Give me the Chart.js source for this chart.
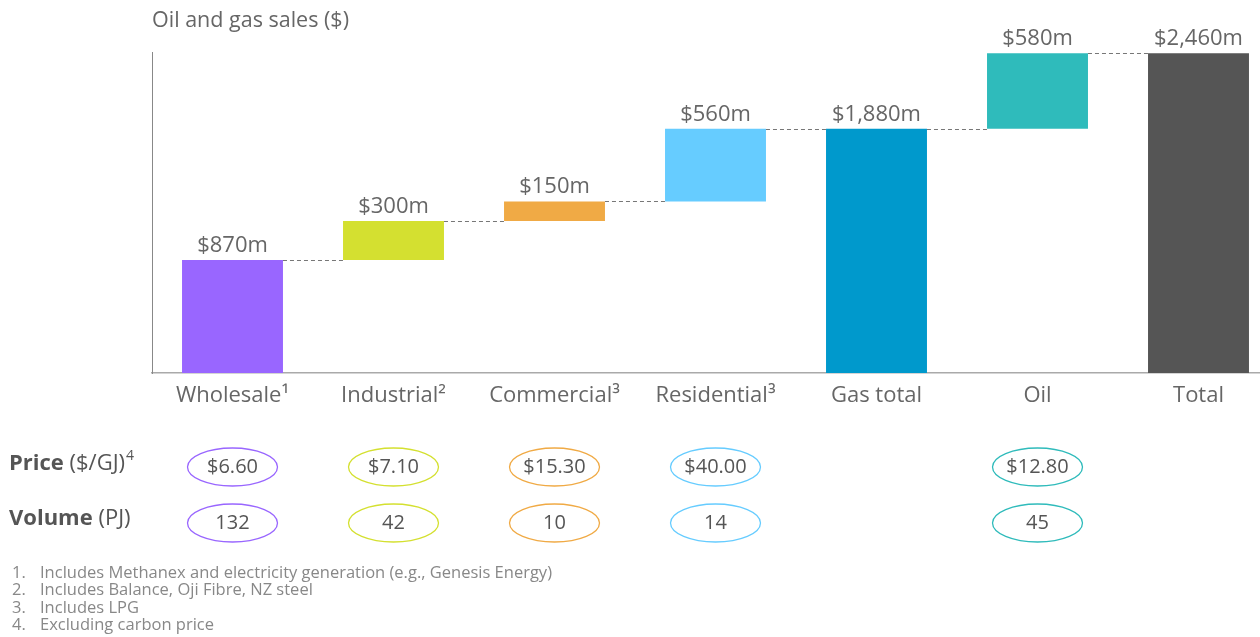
<html>
<head>
  <title>Oil and gas sales</title>
  <script src="https://cdn.jsdelivr.net/npm/chart.js"></script>
  <style>
    body { margin: 0; overflow: hidden; background: #fff; }
    #wrap { width: 1260px; height: 637px; overflow: hidden; }
  </style>
</head>
<body>
  <div id="wrap"><canvas id="salesChart" width="1280" height="637"></canvas></div>

  <script>
    // Categories along the bottom
    const categories = ['Wholesale\u00B9', 'Industrial\u00B2', 'Commercial\u00B3', 'Residential\u00B3', 'Gas total', 'Oil', 'Total'];

    // Floating bar ranges ($m): [start, end]
    const barStarts = [0, 870, 1170, 1320, 0, 1880, 0];
    const barEnds = [870, 1170, 1320, 1880, 1880, 2460, 2460];

    // Labels shown above each bar
    const barLabels = ['$870m', '$300m', '$150m', '$560m', '$1,880m', '$580m', '$2,460m'];

    const barColors = ['#9966FF', '#D4E030', '#F0AA45', '#66CCFF', '#0099CC', '#2FBBBB', '#555555'];

    // Rows below the chart
    const prices = ['$6.60', '$7.10', '$15.30', '$40.00', null, '$12.80', null];
    const volumes = ['132', '42', '10', '14', null, '45', null];

    const footnotes = [
      'Includes Methanex and electricity generation (e.g., Genesis Energy)',
      'Includes Balance, Oji Fibre, NZ steel',
      'Includes LPG',
      'Excluding carbon price'
    ];

    const FONT = '"Open Sans", sans-serif';
    const TEXT = '#666666';

    // Draws connectors, value labels, title, ellipse rows and footnotes
    const extrasPlugin = {
      id: 'extras',
      afterDatasetsDraw(chart) {
        const ctx = chart.ctx;
        const y = chart.scales.y;
        const meta = chart.getDatasetMeta(0);

        // dashed connectors between bars
        ctx.save();
        ctx.strokeStyle = '#777';
        ctx.lineWidth = 1;
        ctx.setLineDash([4, 3]);
        for (let i = 0; i < categories.length - 1; i++) {
          const yy = Math.round(y.getPixelForValue(barEnds[i])) + 0.5;
          const x1 = meta.data[i].x + meta.data[i].width / 2;
          const x2 = meta.data[i + 1].x - meta.data[i + 1].width / 2;
          ctx.beginPath();
          ctx.moveTo(x1, yy);
          ctx.lineTo(x2, yy);
          ctx.stroke();
        }
        ctx.restore();

        // value labels above bars
        ctx.save();
        ctx.fillStyle = TEXT;
        ctx.font = '22px ' + FONT;
        ctx.textAlign = 'center';
        ctx.textBaseline = 'alphabetic';
        meta.data.forEach((bar, i) => {
          ctx.fillText(barLabels[i], bar.x, y.getPixelForValue(barEnds[i]) - 8);
        });
        ctx.restore();
      },
      afterDraw(chart) {
        const ctx = chart.ctx;
        const x = chart.scales.x;

        ctx.save();
        // title
        ctx.fillStyle = TEXT;
        ctx.font = '21.5px ' + FONT;
        ctx.textBaseline = 'middle';
        ctx.fillText('Oil and gas sales ($)', 152, 21);

        // row labels
        function rowLabel(bold, rest, sup, yy) {
          ctx.textAlign = 'left';
          ctx.fillStyle = '#555';
          ctx.font = 'bold 22px ' + FONT;
          ctx.fillText(bold, 9, yy);
          let w = ctx.measureText(bold).width;
          ctx.font = '22px ' + FONT;
          ctx.fillText(rest, 9 + w, yy);
          w += ctx.measureText(rest).width;
          if (sup) {
            ctx.font = '14px ' + FONT;
            ctx.fillText(sup, 9 + w + 1, yy - 8);
          }
        }
        rowLabel('Price ', '($/GJ)', '4', 464);
        rowLabel('Volume ', '(PJ)', null, 519);

        // ellipses with values
        function ellipseRow(values, yy) {
          values.forEach((v, i) => {
            if (v === null) return;
            const cx = x.getPixelForValue(i);
            ctx.beginPath();
            ctx.ellipse(cx, yy, 45, 19, 0, 0, Math.PI * 2);
            ctx.strokeStyle = barColors[i];
            ctx.lineWidth = 1.3;
            ctx.stroke();
            ctx.fillStyle = '#555';
            ctx.font = '20px ' + FONT;
            ctx.textAlign = 'center';
            ctx.fillText(v, cx, yy);
          });
        }
        ellipseRow(prices, 467);
        ellipseRow(volumes, 523);

        // footnotes
        ctx.fillStyle = '#888';
        ctx.font = '16.5px ' + FONT;
        ctx.textAlign = 'left';
        footnotes.forEach((note, i) => {
          const yy = 573 + i * 17.5;
          ctx.fillText((i + 1) + '.', 12, yy);
          ctx.fillText(note, 40, yy);
        });
        ctx.restore();
      }
    };

    const ctx = document.getElementById('salesChart').getContext('2d');
    const salesChart = new Chart(ctx, {
      type: 'bar',
      data: {
        labels: categories,
        datasets: [{
          data: barStarts.map((s, i) => [s, barEnds[i]]),
          backgroundColor: barColors,
          borderWidth: 0,
          barPercentage: 0.627,
          categoryPercentage: 1
        }]
      },
      options: {
        responsive: false,
        animation: false,
        layout: { padding: { left: 151, top: 52, right: 1, bottom: 0 } },
        plugins: {
          legend: { display: false },
          tooltip: { enabled: false }
        },
        scales: {
          x: {
            grid: { display: false, drawTicks: false },
            border: { display: true, color: '#aaaaaa', width: 1.5 },
            ticks: {
              color: TEXT,
              font: { family: '"Open Sans", sans-serif', size: 22 },
              padding: 10,
              maxRotation: 0,
              autoSkip: false
            },
            afterFit(scale) { scale.height = 264; }
          },
          y: {
            min: 0,
            max: 2470,
            grid: { display: false, drawTicks: false },
            border: { display: true, color: '#888888', width: 1 },
            ticks: { display: false },
            afterFit(scale) { scale.width = 1; }
          }
        }
      },
      plugins: [extrasPlugin]
    });
  </script>
</body>
</html>
